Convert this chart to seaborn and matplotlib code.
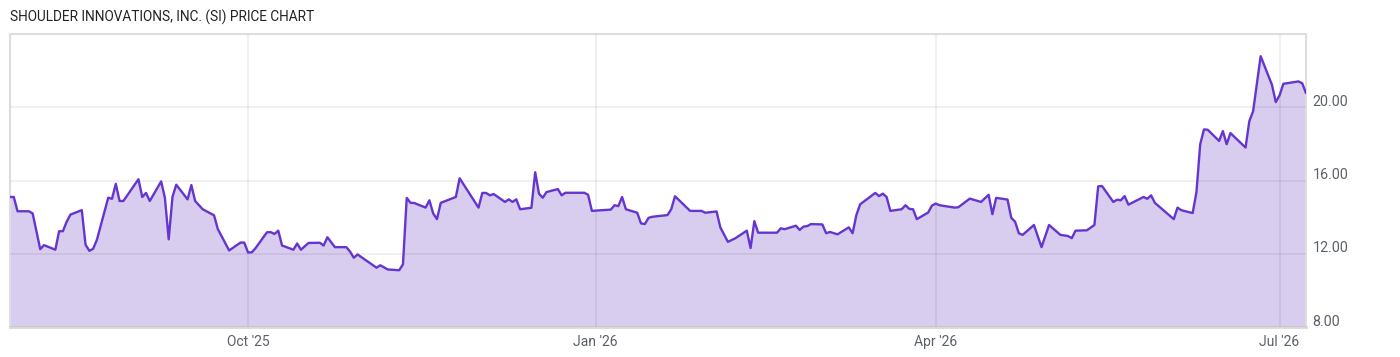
import matplotlib
matplotlib.use("Agg")
import matplotlib.pyplot as plt
from matplotlib.transforms import ScaledTranslation
import pandas as pd
import seaborn as sns

# price data (dates, close)
dates = [
    "2025-07-30", "2025-07-31", "2025-08-01", "2025-08-04", "2025-08-05", "2025-08-07",
    "2025-08-08", "2025-08-11", "2025-08-12", "2025-08-13", "2025-08-14", "2025-08-15",
    "2025-08-18", "2025-08-19", "2025-08-20", "2025-08-21", "2025-08-22", "2025-08-25",
    "2025-08-26", "2025-08-27", "2025-08-28", "2025-08-29", "2025-09-02", "2025-09-03",
    "2025-09-04", "2025-09-05", "2025-09-08", "2025-09-09", "2025-09-10", "2025-09-11",
    "2025-09-12", "2025-09-15", "2025-09-16", "2025-09-17", "2025-09-19", "2025-09-22",
    "2025-09-23", "2025-09-26", "2025-09-29", "2025-09-30", "2025-10-01", "2025-10-02",
    "2025-10-03", "2025-10-06", "2025-10-07", "2025-10-08", "2025-10-09", "2025-10-10",
    "2025-10-13", "2025-10-14", "2025-10-15", "2025-10-17", "2025-10-20", "2025-10-21",
    "2025-10-22", "2025-10-24", "2025-10-27", "2025-10-28", "2025-10-29", "2025-10-30",
    "2025-11-04", "2025-11-05", "2025-11-07", "2025-11-10", "2025-11-11", "2025-11-12",
    "2025-11-13", "2025-11-14", "2025-11-17", "2025-11-18", "2025-11-19", "2025-11-20",
    "2025-11-21", "2025-11-25", "2025-11-26", "2025-12-01", "2025-12-02", "2025-12-03",
    "2025-12-04", "2025-12-05", "2025-12-08", "2025-12-09", "2025-12-10", "2025-12-11",
    "2025-12-12", "2025-12-15", "2025-12-16", "2025-12-17", "2025-12-18", "2025-12-19",
    "2025-12-22", "2025-12-23", "2025-12-24", "2025-12-29", "2025-12-30", "2025-12-31",
    "2026-01-05", "2026-01-06", "2026-01-07", "2026-01-08", "2026-01-09", "2026-01-12",
    "2026-01-13", "2026-01-14", "2026-01-15", "2026-01-16", "2026-01-20", "2026-01-21",
    "2026-01-22", "2026-01-26", "2026-01-29", "2026-01-30", "2026-02-02", "2026-02-03",
    "2026-02-05", "2026-02-07", "2026-02-10", "2026-02-11", "2026-02-12", "2026-02-13",
    "2026-02-18", "2026-02-19", "2026-02-20", "2026-02-23", "2026-02-24", "2026-02-25",
    "2026-02-26", "2026-02-27", "2026-03-02", "2026-03-03", "2026-03-04", "2026-03-06",
    "2026-03-09", "2026-03-10", "2026-03-11", "2026-03-12", "2026-03-16", "2026-03-17",
    "2026-03-18", "2026-03-19", "2026-03-20", "2026-03-23", "2026-03-24", "2026-03-25",
    "2026-03-26", "2026-03-27", "2026-03-30", "2026-03-31", "2026-04-01", "2026-04-02",
    "2026-04-06", "2026-04-07", "2026-04-10", "2026-04-13", "2026-04-15", "2026-04-16",
    "2026-04-17", "2026-04-20", "2026-04-21", "2026-04-22", "2026-04-23", "2026-04-24",
    "2026-04-27", "2026-04-29", "2026-05-01", "2026-05-04", "2026-05-06", "2026-05-07",
    "2026-05-08", "2026-05-11", "2026-05-13", "2026-05-14", "2026-05-15", "2026-05-18",
    "2026-05-19", "2026-05-20", "2026-05-21", "2026-05-22", "2026-05-26", "2026-05-27",
    "2026-05-28", "2026-05-29", "2026-06-03", "2026-06-04", "2026-06-05", "2026-06-08",
    "2026-06-09", "2026-06-10", "2026-06-11", "2026-06-12", "2026-06-15", "2026-06-16",
    "2026-06-17", "2026-06-18", "2026-06-22", "2026-06-23", "2026-06-24", "2026-06-26",
    "2026-06-29", "2026-06-30", "2026-07-01", "2026-07-02", "2026-07-06", "2026-07-07",
    "2026-07-08",
]
prices = [
    15.10, 15.10, 14.32, 14.32, 14.20, 12.25,
    12.47, 12.22, 13.23, 13.23, 13.75, 14.14,
    14.38, 12.49, 12.16, 12.27, 12.76, 15.06,
    15.00, 15.82, 14.88, 14.88, 16.07, 15.10,
    15.32, 14.88, 15.95, 15.05, 12.79, 15.10,
    15.77, 14.97, 15.75, 14.88, 14.43, 14.10,
    13.35, 12.18, 12.61, 12.61, 12.07, 12.08,
    12.31, 13.17, 13.18, 13.08, 13.26, 12.45,
    12.22, 12.56, 12.22, 12.59, 12.60, 12.45,
    12.90, 12.36, 12.36, 12.12, 11.78, 11.96,
    11.24, 11.37, 11.14, 11.10, 11.42, 15.05,
    14.78, 14.77, 14.52, 14.92, 14.20, 13.89,
    14.78, 15.10, 16.12, 14.52, 15.32, 15.32,
    15.19, 15.26, 14.83, 14.97, 14.83, 14.97,
    14.43, 14.51, 16.45, 15.28, 15.06, 15.37,
    15.53, 15.19, 15.33, 15.33, 15.22, 14.34,
    14.41, 14.65, 14.60, 15.10, 14.43, 14.24,
    13.66, 13.62, 13.96, 14.02, 14.11, 14.43,
    15.14, 14.34, 14.34, 14.24, 14.31, 13.44,
    12.65, 12.85, 13.26, 12.31, 13.78, 13.15,
    13.15, 13.39, 13.34, 13.53, 13.30, 13.48,
    13.51, 13.62, 13.60, 13.12, 13.19, 13.06,
    13.44, 13.12, 14.11, 14.70, 15.32, 15.15,
    15.28, 15.10, 14.34, 14.43, 14.65, 14.45,
    14.43, 13.89, 14.25, 14.63, 14.74, 14.65,
    14.52, 14.54, 15.01, 14.83, 15.22, 14.16,
    15.05, 14.96, 13.96, 13.75, 13.12, 13.03,
    13.57, 12.36, 13.57, 13.03, 12.97, 12.85,
    13.26, 13.28, 13.57, 15.68, 15.70, 14.83,
    14.95, 14.92, 15.15, 14.68, 15.10, 15.00,
    15.19, 14.78, 13.89, 14.52, 14.38, 14.22,
    15.35, 17.98, 18.79, 18.77, 18.16, 18.70,
    17.98, 18.59, 17.80, 19.24, 19.78, 22.79,
    21.22, 20.28, 20.65, 21.28, 21.41, 21.31,
    20.77,
]

y_ticks = [8, 12, 16, 20]
x_ticks = ["2025-10-01", "2026-01-01", "2026-04-01", "2026-07-01"]
x_labels = ["Oct '25", "Jan '26", "Apr '26", "Jul '26"]
title = "SHOULDER INNOVATIONS, INC. (SI) PRICE CHART"

df = pd.DataFrame({"date": pd.to_datetime(dates), "price": prices})

sns.set_style("white")
plt.rcParams["font.family"] = ["Roboto", "DejaVu Sans"]

line_color = "#6535cf"
fill_color = "#d8cdef"
text_color = "#5b6068"

fig = plt.figure(figsize=(14, 3.57), dpi=100)
ax = fig.add_axes([10 / 1400, 1 - 327 / 357, 1296 / 1400, 293 / 357])

ax.fill_between(df["date"], df["price"], 8, color=fill_color, lw=0, zorder=1)
sns.lineplot(data=df, x="date", y="price", ax=ax, color=line_color, lw=1.7, zorder=3)

ax.set_xlim(df["date"].min(), df["date"].max())
ax.set_ylim(8, 24)
ax.set_xlabel("")
ax.set_ylabel("")

ax.set_axisbelow(False)
ax.grid(True, color="#000000", alpha=0.07, lw=1.2)

ax.set_xticks(pd.to_datetime(x_ticks))
ax.set_xticklabels(x_labels)
ax.set_yticks(y_ticks)
ax.set_yticklabels([f"{v:.2f}" for v in y_ticks])
ax.yaxis.tick_right()
ax.tick_params(axis="both", length=0, labelcolor=text_color)
ax.tick_params(axis="y", pad=4.5, labelsize=10.3)
ax.tick_params(axis="x", pad=6, labelsize=10)

offset = ScaledTranslation(0, 0.07, fig.dpi_scale_trans)
for lab in ax.get_yticklabels():
    lab.set_transform(lab.get_transform() + offset)

for side in ["top", "left", "right"]:
    ax.spines[side].set_color("#dedede")
    ax.spines[side].set_linewidth(1.5)
ax.spines["bottom"].set_color("#d8d8d8")
ax.spines["bottom"].set_linewidth(2)

fig.text(10 / 1400, 1 - 17 / 357, title, fontsize=9.8, color="#222222",
         ha="left", va="center")

fig.savefig("out.png", dpi=100)
